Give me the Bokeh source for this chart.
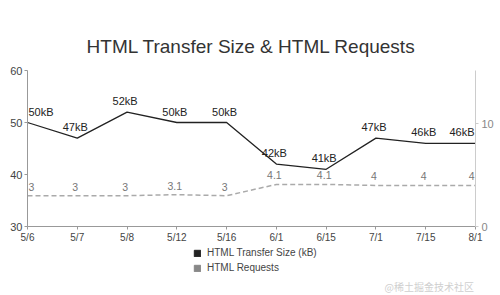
from bokeh.plotting import figure
from bokeh.layouts import column
from bokeh.models import (Range1d, LinearAxis, FixedTicker, Legend, LegendItem,
                          ColumnDataSource, Label)
from bokeh.core.properties import value
from bokeh.embed import file_html
from bokeh.resources import INLINE

dates = ["5/6", "5/7", "5/8", "5/12", "5/16", "6/1", "6/15", "7/1", "7/15", "8/1"]
transfer_kb = [50, 47, 52, 50, 50, 42, 41, 47, 46, 46]
requests = [3, 3, 3, 3.1, 3, 4.1, 4.1, 4, 4, 4]
left_ticks = [30, 40, 50, 60]
right_ticks = [0, 10]

FONT = "Liberation Sans"
n = len(dates)
xs = list(range(n))
align = ["left"] + ["center"] * (n - 2) + ["right"]
xoff = [1] + [-2] * (n - 2) + [-1]

src = ColumnDataSource(dict(
    x=xs, kb=transfer_kb, req=requests,
    kb_txt=[f"{v}kB" for v in transfer_kb],
    req_txt=[f"{v:g}" for v in requests],
    align=align, xoff=xoff,
))

p = figure(width=500, height=245, output_backend="svg", toolbar_location=None,
           x_range=Range1d(0, n - 1), y_range=Range1d(30, 60),
           min_border_left=27, min_border_right=25, min_border_top=70,
           min_border_bottom=17, background_fill_color="white",
           border_fill_color="white", outline_line_color=None)
p.extra_y_ranges = {"req": Range1d(0, 15.2)}
p.xgrid.visible = False
p.ygrid.visible = False

p.title.text = "HTML Transfer Size & HTML Requests"
p.title.text_font = FONT
p.title.text_font_size = "19px"
p.title.text_font_style = "normal"
p.title.text_color = "#333333"
p.title.align = "center"
p.title.standoff = 28

# axes
xa = p.xaxis[0]
xa.ticker = FixedTicker(ticks=xs)
xa.major_label_overrides = {i: d for i, d in enumerate(dates)}
ya = p.yaxis[0]
ya.ticker = FixedTicker(ticks=left_ticks)
for ax in (xa, ya):
    ax.axis_line_color = "#999999"
    ax.major_tick_line_color = "#999999"
    ax.major_tick_out = 3
    ax.major_tick_in = 0
    ax.minor_tick_line_color = None
    ax.major_label_text_font = FONT
    ax.major_label_text_color = "#444444"
    ax.major_label_standoff = 2
xa.major_label_text_font_size = "10px"
ya.major_label_text_font_size = "11px"

ra = LinearAxis(y_range_name="req", ticker=FixedTicker(ticks=right_ticks))
ra.axis_line_color = "#cccccc"
ra.major_tick_line_color = "#cccccc"
ra.major_tick_out = 3
ra.major_tick_in = 0
ra.minor_tick_line_color = None
ra.major_label_text_font = FONT
ra.major_label_text_font_size = "11px"
ra.major_label_text_color = "#888888"
ra.major_label_standoff = 3
p.add_layout(ra, "right")

# lines
p.line("x", "req", source=src, y_range_name="req", line_color="#aaaaaa",
       line_width=1.5, line_dash="5 3")
p.line("x", "kb", source=src, line_color="#222222", line_width=1.3)

# labels
p.text("x", "kb", text="kb_txt", source=src, text_align="align", x_offset="xoff",
       y_offset=-5, text_baseline="bottom", text_font=value(FONT),
       text_font_size="11px", text_color="#222222")
p.text("x", "req", text="req_txt", source=src, y_range_name="req",
       text_align="align", x_offset="xoff", y_offset=-5, text_baseline="bottom",
       text_font=value(FONT), text_font_size="10.5px", text_color="#777777")

# legend strip (its frame is aligned with the chart's frame by the column)
q = figure(width=500, height=50, output_backend="svg", toolbar_location=None,
           x_range=Range1d(0, 1), y_range=Range1d(0, 1),
           x_axis_type=None, y_axis_type=None, outline_line_color=None,
           min_border=0, border_fill_color="white", background_fill_color="white")
q.xgrid.visible = False
q.ygrid.visible = False
# series drawn out of this strip's view; only their legend swatches show
r1 = q.rect(xs, transfer_kb, width=0.1, height=0.1,
            fill_color="#222222", line_color="#222222")
r2 = q.rect(xs, requests, width=0.1, height=0.1,
            fill_color="#888888", line_color="#888888")
legend = Legend(items=[LegendItem(label="HTML Transfer Size (kB)", renderers=[r1]),
                       LegendItem(label="HTML Requests", renderers=[r2])],
                location=(166, 22), orientation="vertical",
                label_text_font=FONT, label_text_font_size="10px",
                label_text_color="#444444", glyph_width=8, glyph_height=8,
                label_height=11, label_standoff=6, spacing=4, padding=2, margin=0,
                border_line_color=None, background_fill_alpha=0)
q.add_layout(legend, "center")
q.add_layout(Label(x=357, y=2, x_units="screen", y_units="screen",
                   text="@稀土掘金技术社区", text_align="left", text_baseline="bottom",
                   text_font="Noto Sans CJK SC", text_font_size="10px",
                   text_color="#cfcfcf"))

layout = column(p, q, spacing=0)
open("out.html", "w").write(file_html(layout, INLINE))
